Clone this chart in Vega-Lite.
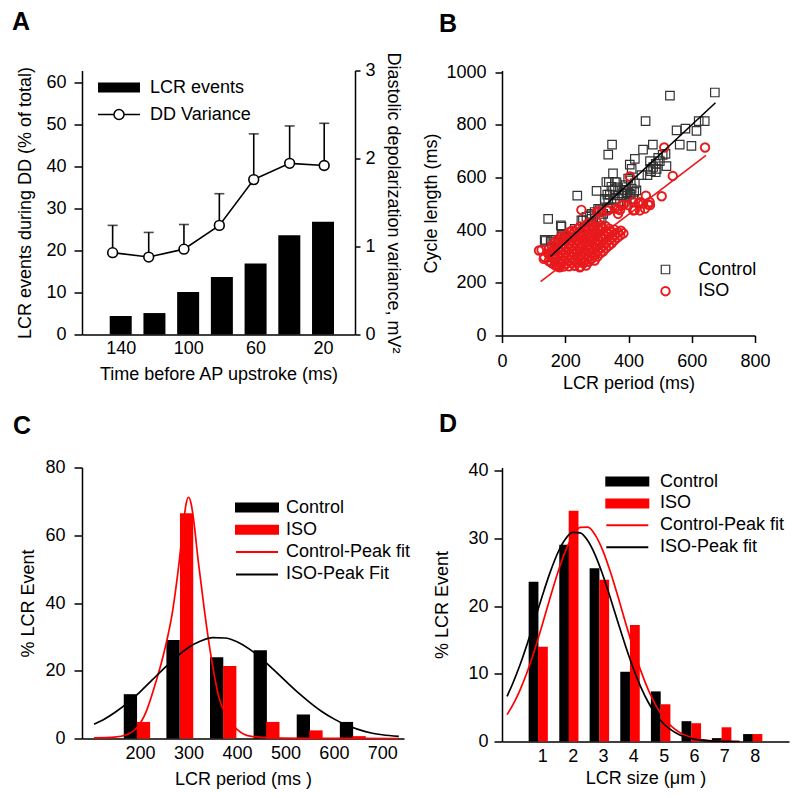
{
  "$schema": "https://vega.github.io/schema/vega-lite/v6.json",
  "background": "white",
  "padding": {"left": 12, "top": 9.5, "right": 5, "bottom": 5},
  "config": {
    "font": "Liberation Sans",
    "view": {"stroke": null},
    "axis": {"grid": false, "labelFlush": false, "labelOverlap": false, "domainColor": "black", "domainWidth": 1.5, "tickColor": "black", "tickWidth": 1.5, "labelColor": "black", "titleColor": "black", "labelFontSize": 18, "titleFontSize": 18, "titleFontWeight": "normal", "labelFont": "Liberation Sans", "titleFont": "Liberation Sans"},
    "legend": {"labelFontSize": 18, "labelFont": "Liberation Sans", "labelColor": "black", "padding": 0},
    "title": {"fontSize": 25, "fontWeight": "bold", "anchor": "start", "frame": "group", "color": "black", "font": "Liberation Sans"}
  },
  "columns": 2,
  "spacing": {"row": 132, "column": 98},
  "bounds": "flush",
  "resolve": {"scale": {"color": "independent", "shape": "independent", "strokeWidth": "independent"}, "legend": {"color": "independent", "shape": "independent"}},
  "concat": [
    {
      "title": {"text": "A", "dx": -70, "offset": 17},
      "width": 273,
      "height": 264,
      "layer": [
        {
          "data": {"values": [
            {"t": 140, "lcr": 4.4}, {"t": 120, "lcr": 5.1}, {"t": 100, "lcr": 10.1}, {"t": 80, "lcr": 13.7},
            {"t": 60, "lcr": 16.9}, {"t": 40, "lcr": 23.6}, {"t": 20, "lcr": 26.8}
          ]},
          "mark": {"type": "bar", "width": 22, "color": "black"},
          "encoding": {
            "x": {"field": "t", "type": "quantitative", "scale": {"domain": [160, 4], "nice": false, "zero": false},
                  "axis": {"values": [140, 100, 60, 20], "ticks": false, "labelPadding": 5, "title": "Time before AP upstroke (ms)", "titlePadding": 8}},
            "y": {"field": "lcr", "type": "quantitative", "scale": {"domain": [0, 62.8], "nice": false},
                  "axis": {"values": [0, 10, 20, 30, 40, 50, 60], "tickSize": 8, "labelPadding": 8, "title": "LCR events during DD (% of total)", "titlePadding": 11}},
            "color": {"datum": "LCR events", "type": "nominal",
                      "scale": {"domain": ["LCR events", "DD Variance"], "range": ["black", "white"]},
                      "legend": {"title": null, "orient": "none", "legendX": 28, "legendY": 8, "symbolSize": 100, "labelOffset": 22, "rowPadding": 9,
                                 "encode": {"symbols": {"update": {
                                   "shape": {"signal": "datum.value === 'LCR events' ? 'M-4.2,-1H4.2V1H-4.2Z' : 'M-4.2,0H-1M1,0H4.2M1,0A1,1,0,1,1,-1,0A1,1,0,1,1,1,0'"},
                                   "stroke": {"value": "black"},
                                   "strokeWidth": {"signal": "datum.value === 'LCR events' ? 0 : 1.5"}
                                 }}}}}
          }
        },
        {
          "data": {"values": [
            {"t": 144.8, "dd": 0.93, "hi": 1.24}, {"t": 123.4, "dd": 0.88, "hi": 1.16}, {"t": 102.5, "dd": 0.97, "hi": 1.25},
            {"t": 81.5, "dd": 1.24, "hi": 1.60}, {"t": 61.1, "dd": 1.76, "hi": 2.28}, {"t": 39.8, "dd": 1.945, "hi": 2.37},
            {"t": 19.3, "dd": 1.92, "hi": 2.40}
          ]},
          "encoding": {
            "x": {"field": "t", "type": "quantitative"},
            "y": {"field": "dd", "type": "quantitative", "scale": {"domain": [0, 3], "nice": false},
                  "axis": {"orient": "right", "values": [0, 1, 2, 3], "tickSize": 5, "labelPadding": 5, "title": "Diastolic depolarization variance, mV²", "titlePadding": 8}}
          },
          "layer": [
            {"mark": {"type": "line", "color": "black", "strokeWidth": 1.6}},
            {"mark": {"type": "rule", "color": "black", "strokeWidth": 1.6}, "encoding": {"y2": {"field": "hi"}}},
            {"mark": {"type": "tick", "orient": "horizontal", "color": "black", "size": 10, "thickness": 1.6}, "encoding": {"y": {"field": "hi", "type": "quantitative"}}},
            {"mark": {"type": "point", "shape": "circle", "filled": true, "fill": "white", "stroke": "black", "strokeWidth": 1.6, "size": 95, "opacity": 1}}
          ]
        }
      ],
      "resolve": {"scale": {"y": "independent"}}
    },
    {
      "title": {"text": "B", "dx": -63, "offset": 26},
      "width": 253,
      "height": 265,
      "layer": [
        {
          "data": {"values": [
            {"p":135,"c":363,"g":"Control"},{"p":146,"c":443,"g":"Control"},{"p":156,"c":363,"g":"Control"},{"p":169,"c":363,"g":"Control"},{"p":159,"c":297,"g":"Control"},{"p":162,"c":305,"g":"Control"},{"p":186,"c":418,"g":"Control"},{"p":190,"c":382,"g":"Control"},{"p":200,"c":365,"g":"Control"},{"p":138,"c":359,"g":"Control"},{"p":154,"c":357,"g":"Control"},{"p":175,"c":354,"g":"Control"},{"p":188,"c":376,"g":"Control"},{"p":198,"c":370,"g":"Control"},{"p":188,"c":413,"g":"Control"},{"p":230,"c":405,"g":"Control"},{"p":238,"c":531,"g":"Control"},{"p":251,"c":437,"g":"Control"},{"p":256,"c":437,"g":"Control"},{"p":262,"c":411,"g":"Control"},{"p":267,"c":451,"g":"Control"},{"p":277,"c":456,"g":"Control"},{"p":283,"c":462,"g":"Control"},{"p":283,"c":443,"g":"Control"},{"p":288,"c":418,"g":"Control"},{"p":293,"c":469,"g":"Control"},{"p":299,"c":549,"g":"Control"},{"p":304,"c":481,"g":"Control"},{"p":309,"c":437,"g":"Control"},{"p":315,"c":443,"g":"Control"},{"p":320,"c":462,"g":"Control"},{"p":325,"c":519,"g":"Control"},{"p":330,"c":583,"g":"Control"},{"p":333,"c":535,"g":"Control"},{"p":336,"c":513,"g":"Control"},{"p":336,"c":687,"g":"Control"},{"p":338,"c":582,"g":"Control"},{"p":341,"c":535,"g":"Control"},{"p":341,"c":487,"g":"Control"},{"p":346,"c":565,"g":"Control"},{"p":348,"c":725,"g":"Control"},{"p":351,"c":616,"g":"Control"},{"p":351,"c":551,"g":"Control"},{"p":357,"c":556,"g":"Control"},{"p":357,"c":583,"g":"Control"},{"p":357,"c":519,"g":"Control"},{"p":362,"c":582,"g":"Control"},{"p":367,"c":563,"g":"Control"},{"p":367,"c":532,"g":"Control"},{"p":373,"c":508,"g":"Control"},{"p":378,"c":532,"g":"Control"},{"p":383,"c":539,"g":"Control"},{"p":385,"c":553,"g":"Control"},{"p":388,"c":551,"g":"Control"},{"p":391,"c":571,"g":"Control"},{"p":394,"c":530,"g":"Control"},{"p":394,"c":508,"g":"Control"},{"p":397,"c":544,"g":"Control"},{"p":399,"c":596,"g":"Control"},{"p":404,"c":649,"g":"Control"},{"p":404,"c":538,"g":"Control"},{"p":407,"c":589,"g":"Control"},{"p":407,"c":535,"g":"Control"},{"p":410,"c":633,"g":"Control"},{"p":410,"c":558,"g":"Control"},{"p":415,"c":519,"g":"Control"},{"p":418,"c":545,"g":"Control"},{"p":420,"c":578,"g":"Control"},{"p":420,"c":671,"g":"Control"},{"p":425,"c":551,"g":"Control"},{"p":441,"c":609,"g":"Control"},{"p":446,"c":706,"g":"Control"},{"p":454,"c":814,"g":"Control"},{"p":460,"c":609,"g":"Control"},{"p":468,"c":662,"g":"Control"},{"p":470,"c":633,"g":"Control"},{"p":471,"c":624,"g":"Control"},{"p":477,"c":725,"g":"Control"},{"p":478,"c":640,"g":"Control"},{"p":486,"c":652,"g":"Control"},{"p":486,"c":620,"g":"Control"},{"p":489,"c":633,"g":"Control"},{"p":494,"c":675,"g":"Control"},{"p":499,"c":662,"g":"Control"},{"p":508,"c":686,"g":"Control"},{"p":517,"c":690,"g":"Control"},{"p":520,"c":643,"g":"Control"},{"p":531,"c":911,"g":"Control"},{"p":552,"c":779,"g":"Control"},{"p":562,"c":725,"g":"Control"},{"p":580,"c":786,"g":"Control"},{"p":599,"c":720,"g":"Control"},{"p":615,"c":777,"g":"Control"},{"p":622,"c":814,"g":"Control"},{"p":641,"c":814,"g":"Control"},{"p":673,"c":923,"g":"Control"},{"p":309,"c":476,"g":"Control"},{"p":325,"c":514,"g":"Control"},{"p":336,"c":482,"g":"Control"},
            {"p":251,"c":477,"g":"ISO"},{"p":307,"c":472,"g":"ISO"},{"p":336,"c":475,"g":"ISO"},{"p":367,"c":481,"g":"ISO"},{"p":404,"c":604,"g":"ISO"},{"p":513,"c":714,"g":"ISO"},{"p":642,"c":714,"g":"ISO"},{"p":540,"c":606,"g":"ISO"},{"p":455,"c":531,"g":"ISO"},{"p":505,"c":529,"g":"ISO"},{"p":415,"c":508,"g":"ISO"},{"p":431,"c":501,"g":"ISO"},{"p":446,"c":501,"g":"ISO"},{"p":462,"c":497,"g":"ISO"},{"p":399,"c":495,"g":"ISO"},{"p":378,"c":495,"g":"ISO"},{"p":357,"c":482,"g":"ISO"},{"p":331,"c":476,"g":"ISO"},{"p":315,"c":469,"g":"ISO"},{"p":373,"c":476,"g":"ISO"},{"p":420,"c":476,"g":"ISO"},{"p":452,"c":482,"g":"ISO"},{"p":468,"c":495,"g":"ISO"},{"p":299,"c":469,"g":"ISO"},{"p":436,"c":506,"g":"ISO"},{"p":467,"c":506,"g":"ISO"},{"p":385,"c":497,"g":"ISO"},{"p":367,"c":462,"g":"ISO"},{"p":415,"c":475,"g":"ISO"},{"p":436,"c":475,"g":"ISO"},{"p":125,"c":325,"g":"ISO"},{"p":132,"c":291,"g":"ISO"},{"p":117,"c":323,"g":"ISO"},{"p":134,"c":298,"g":"ISO"},{"p":146,"c":311,"g":"ISO"},{"p":172,"c":266,"g":"ISO"},{"p":182,"c":259,"g":"ISO"},{"p":246,"c":259,"g":"ISO"},
            {"p":148,"c":283,"g":"ISO"},{"p":150,"c":305,"g":"ISO"},{"p":147,"c":326,"g":"ISO"},
            {"p":157,"c":275,"g":"ISO"},{"p":159,"c":296,"g":"ISO"},{"p":156,"c":318,"g":"ISO"},{"p":158,"c":340,"g":"ISO"},
            {"p":166,"c":268,"g":"ISO"},{"p":168,"c":289,"g":"ISO"},{"p":165,"c":311,"g":"ISO"},{"p":167,"c":333,"g":"ISO"},{"p":164,"c":352,"g":"ISO"},
            {"p":176,"c":262,"g":"ISO"},{"p":178,"c":284,"g":"ISO"},{"p":175,"c":306,"g":"ISO"},{"p":177,"c":327,"g":"ISO"},{"p":174,"c":349,"g":"ISO"},{"p":178,"c":366,"g":"ISO"},
            {"p":185,"c":270,"g":"ISO"},{"p":187,"c":292,"g":"ISO"},{"p":184,"c":314,"g":"ISO"},{"p":186,"c":336,"g":"ISO"},{"p":183,"c":357,"g":"ISO"},{"p":187,"c":375,"g":"ISO"},
            {"p":194,"c":262,"g":"ISO"},{"p":196,"c":283,"g":"ISO"},{"p":193,"c":305,"g":"ISO"},{"p":195,"c":327,"g":"ISO"},{"p":192,"c":348,"g":"ISO"},{"p":196,"c":370,"g":"ISO"},
            {"p":203,"c":272,"g":"ISO"},{"p":205,"c":294,"g":"ISO"},{"p":202,"c":316,"g":"ISO"},{"p":204,"c":338,"g":"ISO"},{"p":201,"c":359,"g":"ISO"},{"p":205,"c":381,"g":"ISO"},
            {"p":212,"c":263,"g":"ISO"},{"p":214,"c":285,"g":"ISO"},{"p":211,"c":307,"g":"ISO"},{"p":213,"c":329,"g":"ISO"},{"p":210,"c":350,"g":"ISO"},{"p":214,"c":372,"g":"ISO"},{"p":212,"c":392,"g":"ISO"},
            {"p":221,"c":275,"g":"ISO"},{"p":223,"c":297,"g":"ISO"},{"p":220,"c":319,"g":"ISO"},{"p":222,"c":341,"g":"ISO"},{"p":219,"c":362,"g":"ISO"},{"p":223,"c":384,"g":"ISO"},{"p":221,"c":398,"g":"ISO"},
            {"p":230,"c":265,"g":"ISO"},{"p":232,"c":287,"g":"ISO"},{"p":229,"c":309,"g":"ISO"},{"p":231,"c":331,"g":"ISO"},{"p":228,"c":352,"g":"ISO"},{"p":232,"c":374,"g":"ISO"},{"p":230,"c":396,"g":"ISO"},
            {"p":239,"c":278,"g":"ISO"},{"p":241,"c":300,"g":"ISO"},{"p":238,"c":322,"g":"ISO"},{"p":240,"c":344,"g":"ISO"},{"p":237,"c":365,"g":"ISO"},{"p":241,"c":387,"g":"ISO"},{"p":239,"c":406,"g":"ISO"},
            {"p":248,"c":262,"g":"ISO"},{"p":250,"c":284,"g":"ISO"},{"p":247,"c":306,"g":"ISO"},{"p":249,"c":328,"g":"ISO"},{"p":246,"c":350,"g":"ISO"},{"p":250,"c":371,"g":"ISO"},{"p":248,"c":393,"g":"ISO"},{"p":247,"c":414,"g":"ISO"},
            {"p":257,"c":274,"g":"ISO"},{"p":259,"c":296,"g":"ISO"},{"p":256,"c":318,"g":"ISO"},{"p":258,"c":340,"g":"ISO"},{"p":255,"c":361,"g":"ISO"},{"p":259,"c":383,"g":"ISO"},{"p":257,"c":405,"g":"ISO"},
            {"p":266,"c":266,"g":"ISO"},{"p":268,"c":288,"g":"ISO"},{"p":265,"c":310,"g":"ISO"},{"p":267,"c":332,"g":"ISO"},{"p":264,"c":354,"g":"ISO"},{"p":268,"c":375,"g":"ISO"},{"p":266,"c":397,"g":"ISO"},{"p":265,"c":418,"g":"ISO"},
            {"p":275,"c":280,"g":"ISO"},{"p":277,"c":302,"g":"ISO"},{"p":274,"c":324,"g":"ISO"},{"p":276,"c":346,"g":"ISO"},{"p":273,"c":367,"g":"ISO"},{"p":277,"c":389,"g":"ISO"},{"p":275,"c":411,"g":"ISO"},{"p":274,"c":428,"g":"ISO"},
            {"p":284,"c":292,"g":"ISO"},{"p":286,"c":314,"g":"ISO"},{"p":283,"c":336,"g":"ISO"},{"p":285,"c":358,"g":"ISO"},{"p":282,"c":380,"g":"ISO"},{"p":286,"c":401,"g":"ISO"},{"p":284,"c":422,"g":"ISO"},
            {"p":293,"c":285,"g":"ISO"},{"p":295,"c":307,"g":"ISO"},{"p":292,"c":329,"g":"ISO"},{"p":294,"c":351,"g":"ISO"},{"p":291,"c":372,"g":"ISO"},{"p":295,"c":394,"g":"ISO"},{"p":293,"c":415,"g":"ISO"},
            {"p":302,"c":300,"g":"ISO"},{"p":304,"c":322,"g":"ISO"},{"p":301,"c":344,"g":"ISO"},{"p":303,"c":366,"g":"ISO"},{"p":300,"c":388,"g":"ISO"},{"p":304,"c":409,"g":"ISO"},{"p":302,"c":428,"g":"ISO"},
            {"p":311,"c":312,"g":"ISO"},{"p":313,"c":334,"g":"ISO"},{"p":310,"c":356,"g":"ISO"},{"p":312,"c":378,"g":"ISO"},{"p":309,"c":399,"g":"ISO"},{"p":313,"c":418,"g":"ISO"},
            {"p":320,"c":320,"g":"ISO"},{"p":322,"c":342,"g":"ISO"},{"p":319,"c":364,"g":"ISO"},{"p":321,"c":385,"g":"ISO"},{"p":318,"c":406,"g":"ISO"},
            {"p":329,"c":332,"g":"ISO"},{"p":331,"c":354,"g":"ISO"},{"p":328,"c":376,"g":"ISO"},{"p":330,"c":397,"g":"ISO"},{"p":327,"c":416,"g":"ISO"},
            {"p":338,"c":342,"g":"ISO"},{"p":340,"c":364,"g":"ISO"},{"p":337,"c":386,"g":"ISO"},{"p":339,"c":406,"g":"ISO"},
            {"p":347,"c":350,"g":"ISO"},{"p":349,"c":372,"g":"ISO"},{"p":346,"c":393,"g":"ISO"},
            {"p":356,"c":362,"g":"ISO"},{"p":358,"c":383,"g":"ISO"},{"p":355,"c":402,"g":"ISO"},
            {"p":365,"c":372,"g":"ISO"},{"p":367,"c":392,"g":"ISO"},
            {"p":374,"c":380,"g":"ISO"},{"p":376,"c":398,"g":"ISO"},
            {"p":384,"c":388,"g":"ISO"}
          ]},
          "mark": {"type": "point", "filled": false, "size": 72, "opacity": 1},
          "encoding": {
            "x": {"field": "p", "type": "quantitative", "scale": {"domain": [0, 800], "nice": false},
                  "axis": {"values": [0, 200, 400, 600, 800], "format": "d", "tickSize": 7, "labelPadding": 10, "title": "LCR period (ms)", "titlePadding": 4}},
            "y": {"field": "c", "type": "quantitative", "scale": {"domain": [0, 1006.5], "nice": false},
                  "axis": {"values": [0, 200, 400, 600, 800, 1000], "format": "d", "tickSize": 7, "labelPadding": 9, "title": "Cycle length (ms)", "titlePadding": 5}},
            "color": {"field": "g", "type": "nominal", "scale": {"domain": ["Control", "ISO"], "range": ["#333333", "#e8191c"]},
                      "legend": {"title": null, "orient": "none", "legendX": 154.5, "legendY": 190, "symbolSize": 72, "labelOffset": 23.8, "rowPadding": 3.7, "symbolStrokeWidth": 1.5}},
            "shape": {"field": "g", "type": "nominal", "scale": {"domain": ["Control", "ISO"], "range": ["square", "circle"]},
                      "legend": {"title": null, "orient": "none", "legendX": 154.5, "legendY": 190, "symbolSize": 72, "labelOffset": 23.8, "rowPadding": 3.7, "symbolStrokeWidth": 1.5}},
            "strokeWidth": {"field": "g", "type": "nominal", "scale": {"domain": ["Control", "ISO"], "range": [1.2, 1.9]}, "legend": null}
          }
        },
        {
          "data": {"values": [{"p": 153, "c": 300}, {"p": 675, "c": 884}]},
          "mark": {"type": "line", "color": "black", "strokeWidth": 1.6},
          "encoding": {"x": {"field": "p", "type": "quantitative"}, "y": {"field": "c", "type": "quantitative"}}
        },
        {
          "data": {"values": [{"p": 122, "c": 205}, {"p": 645, "c": 684}]},
          "mark": {"type": "line", "color": "#e8191c", "strokeWidth": 1.6},
          "encoding": {"x": {"field": "p", "type": "quantitative"}, "y": {"field": "c", "type": "quantitative"}}
        }
      ]
    },
    {
      "title": {"text": "C", "dx": -69, "offset": 20},
      "width": 322,
      "height": 271,
      "layer": [
        {
          "data": {"values": [
            {"p": 180, "v": 13.1, "g": "Control"}, {"p": 268, "v": 29.1, "g": "Control"}, {"p": 358, "v": 24.0, "g": "Control"},
            {"p": 448, "v": 26.1, "g": "Control"}, {"p": 537, "v": 7.1, "g": "Control"}, {"p": 626, "v": 4.9, "g": "Control"},
            {"p": 207, "v": 4.9, "g": "ISO"}, {"p": 296, "v": 66.6, "g": "ISO"}, {"p": 385, "v": 21.4, "g": "ISO"},
            {"p": 474, "v": 4.9, "g": "ISO"}, {"p": 563, "v": 2.4, "g": "ISO"}, {"p": 652, "v": 0.7, "g": "ISO"}
          ]},
          "mark": {"type": "bar", "width": 13.3},
          "encoding": {
            "x": {"field": "p", "type": "quantitative", "scale": {"domain": [90.4, 734.4], "nice": false, "zero": false},
                  "axis": {"values": [200, 300, 400, 500, 600, 700], "ticks": false, "labelPadding": 6, "title": "LCR period (ms )", "titlePadding": 8}},
            "y": {"field": "v", "type": "quantitative", "scale": {"domain": [0, 80.1], "nice": false},
                  "axis": {"values": [0, 20, 40, 60, 80], "tickSize": 8, "labelPadding": 9, "title": "% LCR Event", "titlePadding": 7}},
            "color": {"field": "g", "type": "nominal",
                      "scale": {"domain": ["Control", "ISO", "Control-Peak fit", "ISO-Peak Fit"], "range": ["black", "#ff0000", "#ff0000", "black"]},
                      "legend": {"title": null, "orient": "none", "legendX": 166, "legendY": 31, "symbolSize": 100, "labelOffset": 20, "rowPadding": 4.3,
                                 "encode": {"symbols": {"update": {
                                   "shape": {"signal": "(datum.value === 'Control' || datum.value === 'ISO') ? 'M-4.2,-0.8H4.2V0.8H-4.2Z' : 'M-4.2,0H4.2'"},
                                   "fill": {"signal": "datum.value === 'Control' ? 'black' : (datum.value === 'ISO' ? '#ff0000' : 'transparent')"},
                                   "stroke": {"signal": "datum.value === 'Control-Peak fit' ? '#ff0000' : (datum.value === 'ISO-Peak Fit' ? 'black' : 'transparent')"},
                                   "strokeWidth": {"value": 2}
                                 }}}}}
          }
        },
        {
          "data": {"values": [
            {"p": 105, "v": 0.2, "f": "Control-Peak fit"}, {"p": 147, "v": 0.4, "f": "Control-Peak fit"}, {"p": 173, "v": 1.2, "f": "Control-Peak fit"},
            {"p": 193, "v": 3.1, "f": "Control-Peak fit"}, {"p": 213, "v": 8.1, "f": "Control-Peak fit"}, {"p": 233, "v": 16.9, "f": "Control-Peak fit"},
            {"p": 250, "v": 25.8, "f": "Control-Peak fit"}, {"p": 267, "v": 37.6, "f": "Control-Peak fit"}, {"p": 280, "v": 51.4, "f": "Control-Peak fit"},
            {"p": 290, "v": 64.2, "f": "Control-Peak fit"}, {"p": 295, "v": 69.4, "f": "Control-Peak fit"}, {"p": 300, "v": 71.3, "f": "Control-Peak fit"},
            {"p": 305, "v": 69.6, "f": "Control-Peak fit"}, {"p": 310, "v": 65.2, "f": "Control-Peak fit"}, {"p": 320, "v": 52.4, "f": "Control-Peak fit"},
            {"p": 333, "v": 37.6, "f": "Control-Peak fit"}, {"p": 347, "v": 23.8, "f": "Control-Peak fit"}, {"p": 363, "v": 12.0, "f": "Control-Peak fit"},
            {"p": 380, "v": 6.1, "f": "Control-Peak fit"}, {"p": 400, "v": 2.7, "f": "Control-Peak fit"}, {"p": 427, "v": 0.7, "f": "Control-Peak fit"},
            {"p": 474, "v": 0.2, "f": "Control-Peak fit"}, {"p": 560, "v": 0.05, "f": "Control-Peak fit"}, {"p": 734, "v": 0.0, "f": "Control-Peak fit"},
            {"p": 105, "v": 4.2, "f": "ISO-Peak Fit"}, {"p": 125, "v": 5.6, "f": "ISO-Peak Fit"}, {"p": 150, "v": 7.9, "f": "ISO-Peak Fit"},
            {"p": 175, "v": 10.6, "f": "ISO-Peak Fit"}, {"p": 200, "v": 13.8, "f": "ISO-Peak Fit"}, {"p": 225, "v": 17.3, "f": "ISO-Peak Fit"},
            {"p": 250, "v": 20.8, "f": "ISO-Peak Fit"}, {"p": 275, "v": 24.1, "f": "ISO-Peak Fit"}, {"p": 300, "v": 26.9, "f": "ISO-Peak Fit"},
            {"p": 325, "v": 28.8, "f": "ISO-Peak Fit"}, {"p": 350, "v": 29.8, "f": "ISO-Peak Fit"}, {"p": 375, "v": 29.7, "f": "ISO-Peak Fit"},
            {"p": 400, "v": 28.6, "f": "ISO-Peak Fit"}, {"p": 425, "v": 26.5, "f": "ISO-Peak Fit"}, {"p": 450, "v": 23.7, "f": "ISO-Peak Fit"},
            {"p": 475, "v": 20.4, "f": "ISO-Peak Fit"}, {"p": 500, "v": 17.0, "f": "ISO-Peak Fit"}, {"p": 525, "v": 13.7, "f": "ISO-Peak Fit"},
            {"p": 550, "v": 10.7, "f": "ISO-Peak Fit"}, {"p": 575, "v": 8.0, "f": "ISO-Peak Fit"}, {"p": 600, "v": 5.8, "f": "ISO-Peak Fit"},
            {"p": 625, "v": 4.0, "f": "ISO-Peak Fit"}, {"p": 650, "v": 2.7, "f": "ISO-Peak Fit"}, {"p": 675, "v": 1.7, "f": "ISO-Peak Fit"},
            {"p": 700, "v": 1.1, "f": "ISO-Peak Fit"}, {"p": 734, "v": 0.6, "f": "ISO-Peak Fit"}
          ]},
          "mark": {"type": "line", "strokeWidth": 1.7, "interpolate": "monotone"},
          "encoding": {
            "x": {"field": "p", "type": "quantitative"},
            "y": {"field": "v", "type": "quantitative"},
            "color": {"field": "f", "type": "nominal"}
          }
        }
      ]
    },
    {
      "title": {"text": "D", "dx": -63, "offset": 25},
      "width": 287,
      "height": 274,
      "layer": [
        {
          "data": {"values": [
            {"s": 0.71, "v": 23.6, "g": "Control"}, {"s": 1.72, "v": 29.05, "g": "Control"}, {"s": 2.72, "v": 25.6, "g": "Control"}, {"s": 3.73, "v": 10.3, "g": "Control"},
            {"s": 4.74, "v": 7.4, "g": "Control"}, {"s": 5.75, "v": 3.0, "g": "Control"}, {"s": 6.75, "v": 0.5, "g": "Control"}, {"s": 7.78, "v": 1.1, "g": "Control"},
            {"s": 1.02, "v": 14.0, "g": "ISO"}, {"s": 2.03, "v": 34.1, "g": "ISO"}, {"s": 3.04, "v": 23.9, "g": "ISO"}, {"s": 4.05, "v": 17.2, "g": "ISO"},
            {"s": 5.06, "v": 5.5, "g": "ISO"}, {"s": 6.07, "v": 2.7, "g": "ISO"}, {"s": 7.07, "v": 2.1, "g": "ISO"}, {"s": 8.09, "v": 1.1, "g": "ISO"}
          ]},
          "mark": {"type": "bar", "width": 9.8},
          "encoding": {
            "x": {"field": "s", "type": "quantitative", "scale": {"domain": [-0.165, 8.966], "nice": false, "zero": false},
                  "axis": {"values": [1, 2, 3, 4, 5, 6, 7, 8], "ticks": false, "labelPadding": 6, "title": "LCR size (μm )", "titlePadding": 4}},
            "y": {"field": "v", "type": "quantitative", "scale": {"domain": [0, 40.47], "nice": false},
                  "axis": {"values": [0, 10, 20, 30, 40], "tickSize": 8, "labelPadding": 6, "title": "% LCR Event", "titlePadding": 16}},
            "color": {"field": "g", "type": "nominal",
                      "scale": {"domain": ["Control", "ISO", "Control-Peak fit", "ISO-Peak fit"], "range": ["black", "#ff0000", "#ff0000", "black"]},
                      "legend": {"title": null, "orient": "none", "legendX": 116.3, "legendY": 5, "symbolSize": 100, "labelOffset": 23.7, "rowPadding": 3.9,
                                 "encode": {"symbols": {"update": {
                                   "shape": {"signal": "(datum.value === 'Control' || datum.value === 'ISO') ? 'M-4.2,-0.8H4.2V0.8H-4.2Z' : 'M-4.2,0H4.2'"},
                                   "fill": {"signal": "datum.value === 'Control' ? 'black' : (datum.value === 'ISO' ? '#ff0000' : 'transparent')"},
                                   "stroke": {"signal": "datum.value === 'Control-Peak fit' ? '#ff0000' : (datum.value === 'ISO-Peak fit' ? 'black' : 'transparent')"},
                                   "strokeWidth": {"value": 2}
                                 }}}}}
          }
        },
        {
          "data": {"values": [
            {"s": -0.165, "v": 3.97, "f": "Control-Peak fit"}, {"s": 0.0, "v": 5.19, "f": "Control-Peak fit"}, {"s": 0.25, "v": 7.45, "f": "Control-Peak fit"},
            {"s": 0.5, "v": 10.26, "f": "Control-Peak fit"}, {"s": 0.75, "v": 13.59, "f": "Control-Peak fit"}, {"s": 1.0, "v": 17.29, "f": "Control-Peak fit"},
            {"s": 1.25, "v": 21.13, "f": "Control-Peak fit"}, {"s": 1.5, "v": 24.82, "f": "Control-Peak fit"}, {"s": 1.75, "v": 28.01, "f": "Control-Peak fit"},
            {"s": 2.0, "v": 30.37, "f": "Control-Peak fit"}, {"s": 2.25, "v": 31.63, "f": "Control-Peak fit"}, {"s": 2.5, "v": 31.65, "f": "Control-Peak fit"},
            {"s": 2.75, "v": 30.44, "f": "Control-Peak fit"}, {"s": 3.0, "v": 28.12, "f": "Control-Peak fit"}, {"s": 3.25, "v": 24.96, "f": "Control-Peak fit"},
            {"s": 3.5, "v": 21.29, "f": "Control-Peak fit"}, {"s": 3.75, "v": 17.44, "f": "Control-Peak fit"}, {"s": 4.0, "v": 13.73, "f": "Control-Peak fit"},
            {"s": 4.25, "v": 10.39, "f": "Control-Peak fit"}, {"s": 4.5, "v": 7.55, "f": "Control-Peak fit"}, {"s": 4.75, "v": 5.27, "f": "Control-Peak fit"},
            {"s": 5.0, "v": 3.54, "f": "Control-Peak fit"}, {"s": 5.25, "v": 2.28, "f": "Control-Peak fit"}, {"s": 5.5, "v": 1.41, "f": "Control-Peak fit"},
            {"s": 6.0, "v": 0.48, "f": "Control-Peak fit"}, {"s": 6.5, "v": 0.14, "f": "Control-Peak fit"}, {"s": 7.0, "v": 0.04, "f": "Control-Peak fit"},
            {"s": 7.5, "v": 0.0, "f": "Control-Peak fit"},
            {"s": -0.165, "v": 6.66, "f": "ISO-Peak fit"}, {"s": 0.0, "v": 8.31, "f": "ISO-Peak fit"}, {"s": 0.25, "v": 11.14, "f": "ISO-Peak fit"},
            {"s": 0.5, "v": 14.40, "f": "ISO-Peak fit"}, {"s": 0.75, "v": 17.94, "f": "ISO-Peak fit"}, {"s": 1.0, "v": 21.53, "f": "ISO-Peak fit"},
            {"s": 1.25, "v": 24.91, "f": "ISO-Peak fit"}, {"s": 1.5, "v": 27.77, "f": "ISO-Peak fit"}, {"s": 1.75, "v": 29.83, "f": "ISO-Peak fit"},
            {"s": 2.0, "v": 30.89, "f": "ISO-Peak fit"}, {"s": 2.25, "v": 30.82, "f": "ISO-Peak fit"}, {"s": 2.5, "v": 29.64, "f": "ISO-Peak fit"},
            {"s": 2.75, "v": 27.46, "f": "ISO-Peak fit"}, {"s": 3.0, "v": 24.52, "f": "ISO-Peak fit"}, {"s": 3.25, "v": 21.10, "f": "ISO-Peak fit"},
            {"s": 3.5, "v": 17.50, "f": "ISO-Peak fit"}, {"s": 3.75, "v": 13.99, "f": "ISO-Peak fit"}, {"s": 4.0, "v": 10.78, "f": "ISO-Peak fit"},
            {"s": 4.25, "v": 8.00, "f": "ISO-Peak fit"}, {"s": 4.5, "v": 5.72, "f": "ISO-Peak fit"}, {"s": 4.75, "v": 3.94, "f": "ISO-Peak fit"},
            {"s": 5.0, "v": 2.62, "f": "ISO-Peak fit"}, {"s": 5.5, "v": 1.03, "f": "ISO-Peak fit"}, {"s": 6.0, "v": 0.35, "f": "ISO-Peak fit"},
            {"s": 6.5, "v": 0.10, "f": "ISO-Peak fit"}, {"s": 7.0, "v": 0.03, "f": "ISO-Peak fit"}, {"s": 7.5, "v": 0.0, "f": "ISO-Peak fit"}
          ]},
          "mark": {"type": "line", "strokeWidth": 1.7, "interpolate": "monotone"},
          "encoding": {
            "x": {"field": "s", "type": "quantitative"},
            "y": {"field": "v", "type": "quantitative"},
            "color": {"field": "f", "type": "nominal"}
          }
        }
      ]
    }
  ]
}
